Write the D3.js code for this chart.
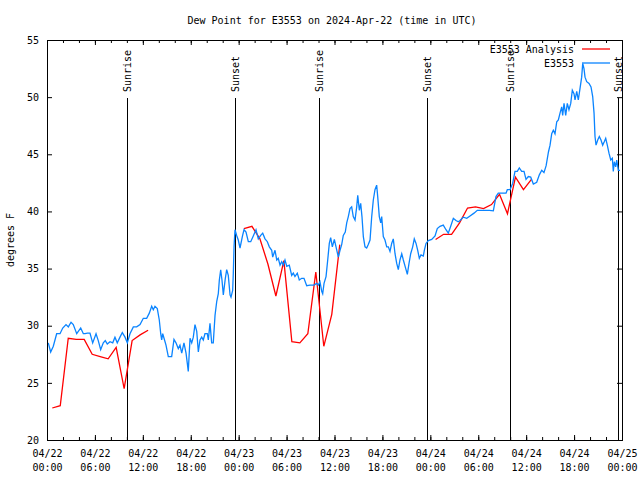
<!DOCTYPE html>
<html>
<head>
<meta charset="utf-8">
<script src="https://d3js.org/d3.v7.min.js"></script>
<style>
  body { margin: 0; background: #fff; }
  text { font-family: "DejaVu Sans Mono", monospace; font-size: 10px; fill: #000; }
</style>
</head>
<body>
<div id="chart"></div>
<script>
// hours after 2024-04-22 00:00 UTC
var redHours = [0.66, 1.66, 2.66, 3.66, 4.66, 5.66, 6.66, 7.66, 8.66, 9.66, 10.66, 11.66, 12.66,
  24.66, 25.66, 26.66, 27.66, 28.66, 29.66, 30.66, 31.66, 32.66, 33.66, 34.66, 35.66, 36.66,
  48.66, 49.66, 50.66, 51.66, 52.66, 53.66, 54.66, 55.66, 56.66, 57.66, 58.66, 59.66, 60.66];
var redDew = [22.8, 23.0, 28.9, 28.8, 28.8, 27.5, 27.3, 27.1, 28.1, 24.5, 28.7, 29.2, 29.6,
  38.5, 38.7, 37.6, 35.4, 32.6, 35.7, 28.6, 28.5, 29.3, 34.7, 28.2, 31.0, 37.1,
  37.55, 38.0, 38.0, 39.0, 40.3, 40.4, 40.25, 40.6, 41.5, 39.8, 43.0, 41.9, 42.8];

var blueHours = [0.16, 0.46, 0.79, 1.21, 1.63, 1.97, 2.38, 2.67, 3.01, 3.29, 3.72, 3.92, 4.22, 4.55, 4.76,
  5.05, 5.38, 5.72, 6.14, 6.42, 6.72, 7.05, 7.30, 7.55, 7.89, 8.23, 8.51, 8.80, 9.14, 9.43, 9.77,
  10.06, 10.39, 10.81, 11.23, 11.65, 12.06, 12.48, 12.81, 13.11, 13.31, 13.52, 13.81, 14.06, 14.24,
  14.36, 14.49, 14.78, 14.90, 15.19, 15.61, 15.90, 16.15, 16.44, 16.65, 16.87, 17.15, 17.41, 17.57,
  17.69, 17.91, 18.12, 18.32, 18.53, 18.75, 18.95, 19.16, 19.37, 19.57, 19.78, 20.07, 20.20, 20.41,
  20.62, 20.82, 21.04, 21.25, 21.45, 21.58, 21.75, 21.91, 22.08, 22.20, 22.33, 22.50, 22.70, 22.92,
  23.04, 23.25, 23.33, 23.42, 23.54, 23.75, 23.95, 24.17, 24.46, 24.67, 24.92, 25.21, 25.51, 25.83,
  26.17, 26.46, 26.76, 27.01, 27.30, 27.59, 27.84, 28.14, 28.26, 28.55, 28.77, 28.96, 29.18, 29.39,
  29.59, 29.80, 30.02, 30.34, 30.64, 30.84, 31.05, 31.34, 31.59, 31.89, 32.18, 32.52, 32.93, 33.43,
  33.77, 33.97, 34.18, 34.40, 34.52, 34.69, 34.94, 35.15, 35.35, 35.52, 35.73, 35.98, 36.19, 36.48,
  36.69, 36.90, 37.10, 37.35, 37.53, 37.73, 37.94, 38.15, 38.35, 38.57, 38.78, 38.91, 39.11, 39.28,
  39.44, 39.61, 39.82, 40.03, 40.23, 40.45, 40.66, 40.86, 41.07, 41.28, 41.41, 41.61, 41.79, 41.91,
  42.11, 42.32, 42.54, 42.74, 42.95, 43.16, 43.36, 43.58, 43.79, 43.99, 44.20, 44.42, 44.62, 44.92,
  45.12, 45.33, 45.54, 45.79, 45.99, 46.21, 46.42, 46.62, 46.83, 47.12, 47.25, 47.46, 47.75, 48.17,
  48.59, 48.87, 49.21, 49.62, 49.96, 50.25, 50.55, 50.88, 51.21, 51.50, 51.72, 52.13, 52.56, 52.97,
  53.47, 53.88, 54.43, 55.06, 55.38, 55.89, 56.22, 56.51, 56.94, 57.48, 57.64, 57.98, 58.31, 58.60,
  58.89, 59.14, 59.44, 59.73, 59.98, 60.27, 60.57, 60.90, 61.32, 61.65, 61.95, 62.23, 62.50, 62.79,
  62.99, 63.20, 63.40, 63.61, 63.83, 64.03, 64.24, 64.45, 64.57, 64.74, 64.95, 65.15, 65.36, 65.58,
  65.78, 65.99, 66.12, 66.33, 66.53, 66.74, 66.95, 67.08, 67.24, 67.37, 67.58, 67.87, 68.12, 68.33,
  68.50, 68.62, 68.75, 68.96, 69.16, 69.37, 69.58, 69.78, 69.96, 70.16, 70.37, 70.59, 70.79, 70.91,
  71.04, 71.21, 71.34, 71.54, 71.75];
var blueDew = [28.5, 27.7, 28.2, 29.3, 29.3, 29.8, 30.1, 29.9, 30.3, 30.1, 29.3, 29.5, 29.8, 29.3, 29.3,
  29.35, 29.35, 28.5, 29.3, 28.7, 27.9, 28.5, 28.7, 28.4, 28.6, 28.5, 29.0, 28.5, 29.0, 29.4, 29.0,
  28.5, 29.3, 29.9, 29.9, 30.1, 30.65, 30.65, 31.1, 31.7, 31.4, 31.7, 31.5, 30.5, 29.3,
  28.75, 29.3, 28.6, 28.3, 27.3, 27.3, 28.8, 28.5, 28.0, 28.3, 27.6, 28.5, 27.6, 26.7,
  26.0, 28.9, 28.5, 29.0, 30.1, 29.5, 27.7, 28.75, 29.0, 28.75, 29.3, 29.3, 28.75, 30.2,
  28.5, 28.5, 30.9, 32.1, 32.8, 34.0, 34.9, 34.0, 32.7, 33.4, 34.15, 34.9, 34.4, 32.7,
  32.5, 33.1, 34.6, 36.9, 38.4, 37.9, 37.5, 36.8, 37.8, 38.4, 38.2, 37.35, 37.35, 37.85,
  38.4, 37.6, 37.9, 38.1, 37.6, 37.35, 36.9, 36.6, 36.0, 36.6, 35.75, 35.9, 35.3, 35.6,
  35.3, 35.75, 35.2, 35.3, 34.4, 34.6, 34.3, 34.6, 34.0, 34.15, 34.15, 33.5, 33.55, 33.55,
  33.7, 33.55, 33.85, 33.0, 32.8, 33.7, 34.3, 35.75, 37.2, 37.7, 36.9, 37.55, 36.9, 36.0,
  36.6, 37.1, 37.9, 38.2, 39.0, 39.55, 40.25, 40.4, 39.55, 39.25, 40.4, 41.4, 40.1, 40.7,
  39.55, 37.8, 36.9, 36.8, 37.1, 37.5, 39.55, 41.0, 41.9, 42.3, 41.3, 39.55, 39.0, 39.55,
  37.8, 37.5, 36.9, 36.9, 36.5, 37.2, 37.6, 36.3, 35.45, 34.9, 35.75, 36.3, 35.75, 35.0,
  34.5, 35.45, 36.3, 36.9, 37.6, 37.2, 36.6, 35.9, 36.2, 36.1, 36.6, 37.2, 37.45, 37.55,
  37.85, 38.5, 38.7, 38.8, 38.4, 38.1, 38.7, 39.4, 39.2, 39.1, 39.2, 39.5, 39.4, 39.6,
  39.85, 40.1, 40.1, 40.1, 40.1, 40.05, 41.3, 41.6, 41.6, 41.6, 41.9, 41.9, 42.45, 43.5,
  43.5, 43.8, 43.5, 43.5, 42.8, 43.05, 43.0, 42.4, 42.55, 43.2, 43.6, 43.4, 44.0, 45.2,
  45.8, 46.8, 47.1, 46.8, 47.85, 48.0, 48.6, 49.15, 48.4, 49.45, 48.4, 49.45, 48.9, 49.45,
  50.6, 50.3, 49.75, 50.5, 49.75, 50.75, 51.75, 52.95, 52.5, 51.75, 51.35, 51.2, 50.9, 50.05,
  48.6, 46.55, 45.8, 46.25, 46.55, 46.25, 45.8, 46.1, 46.4, 45.8, 45.1, 44.5, 44.65, 43.5,
  44.35, 43.9, 44.5, 43.6, 43.6];

var sunTimes = ["2024-04-22T10:01Z", "2024-04-22T23:32Z", "2024-04-23T10:00Z",
  "2024-04-23T23:34Z", "2024-04-24T09:59Z", "2024-04-24T23:33Z"];
var sunLabels = ["Sunrise", "Sunset", "Sunrise", "Sunset", "Sunrise", "Sunset"];

var yTicks = [20, 25, 30, 35, 40, 45, 50, 55];

var svgWidth = 640;
var svgHeight = 480;
var margin = { top: 40, right: 18, bottom: 40, left: 47 };
var chartWidth = svgWidth - margin.left - margin.right;
var chartHeight = svgHeight - margin.top - margin.bottom;

var start = Date.UTC(2024, 3, 22);
function toDate(h) { return new Date(start + h * 3600000); }

var svg = d3.select("#chart").append("svg")
  .attr("width", svgWidth)
  .attr("height", svgHeight);

var chartGroup = svg.append("g")
  .attr("transform", `translate(${margin.left}, ${margin.top})`);

var xScale = d3.scaleUtc()
  .domain([new Date(start), new Date(start + 72 * 3600000)])
  .range([0, chartWidth]);

var yScale = d3.scaleLinear()
  .domain([20, 55])
  .range([chartHeight, 0]);

// minor ticks every 2 hours, bottom and top
chartGroup.append("g")
  .attr("transform", `translate(0, ${chartHeight})`)
  .call(d3.axisBottom(xScale).ticks(d3.utcHour.every(2)).tickSize(-3).tickFormat(""));
chartGroup.append("g")
  .call(d3.axisTop(xScale).ticks(d3.utcHour.every(2)).tickSize(-3).tickFormat(""));

// major ticks every 6 hours with two-line labels
var bottomAxis = chartGroup.append("g")
  .attr("transform", `translate(0, ${chartHeight})`)
  .call(d3.axisBottom(xScale).ticks(d3.utcHour.every(6)).tickSize(-5).tickPadding(9.5).tickFormat(""));
bottomAxis.selectAll(".tick text").each(function(d) {
  var t = d3.select(this);
  t.append("tspan").attr("x", 0).text(d3.utcFormat("%m/%d")(d));
  t.append("tspan").attr("x", 0).attr("dy", "1.45em").text(d3.utcFormat("%H:%M")(d));
});
chartGroup.append("g")
  .call(d3.axisTop(xScale).ticks(d3.utcHour.every(6)).tickSize(-5).tickFormat(""));

// y axis left with labels, right mirrored
chartGroup.append("g")
  .call(d3.axisLeft(yScale).tickValues(yTicks).tickSize(-5).tickPadding(8));
chartGroup.append("g")
  .attr("transform", `translate(${chartWidth}, 0)`)
  .call(d3.axisRight(yScale).tickValues(yTicks).tickSize(-5).tickFormat(""));

chartGroup.selectAll(".domain").remove();
chartGroup.selectAll(".tick line").attr("stroke", "#000");
chartGroup.selectAll(".tick text")
  .style("font-family", "DejaVu Sans Mono, monospace")
  .style("font-size", "10px")
  .attr("fill", "#000");

// sunrise / sunset markers
var sunGroup = chartGroup.selectAll(".sun")
  .data(sunTimes)
  .enter()
  .append("g")
  .attr("class", "sun");
sunGroup.append("line")
  .attr("x1", d => Math.round(xScale(new Date(d))) + 0.5)
  .attr("x2", d => Math.round(xScale(new Date(d))) + 0.5)
  .attr("y1", 58)
  .attr("y2", chartHeight)
  .attr("stroke", "#000")
  .attr("stroke-width", 1);
sunGroup.append("text")
  .attr("transform", d => `translate(${xScale(new Date(d)) + 0.5}, 52) rotate(-90)`)
  .attr("text-anchor", "start")
  .attr("dy", "0.35em")
  .text((d, i) => sunLabels[i]);

// analysis line, split where hours are missing
var redPoints = redHours.map((h, i) => ({ t: toDate(h), v: redDew[i], h: h }));
var redSegments = [];
redPoints.forEach(function(p, i) {
  if (i === 0 || p.h - redPoints[i - 1].h > 1.5) redSegments.push([]);
  redSegments[redSegments.length - 1].push(p);
});
var bluePoints = blueHours.map((h, i) => ({ t: toDate(h), v: blueDew[i] }));

var line = d3.line()
  .x(d => xScale(d.t))
  .y(d => yScale(d.v));

chartGroup.selectAll(".red")
  .data(redSegments)
  .enter()
  .append("path")
  .attr("d", line)
  .attr("fill", "none")
  .attr("stroke", "#ff0000")
  .attr("stroke-width", 1.3);

chartGroup.append("path")
  .attr("d", line(bluePoints))
  .attr("fill", "none")
  .attr("stroke", "#0a84ff")
  .attr("stroke-width", 1.3);

// frame
chartGroup.append("rect")
  .attr("x", 0.5)
  .attr("y", 0.5)
  .attr("width", chartWidth)
  .attr("height", chartHeight)
  .attr("fill", "none")
  .attr("stroke", "#000");

// legend
var legend = [{ name: "E3553 Analysis", color: "#ff0000" }, { name: "E3553", color: "#0a84ff" }];
legend.forEach(function(d, i) {
  var y = 9 + i * 14;
  chartGroup.append("text")
    .attr("x", 527)
    .attr("y", y)
    .attr("dy", "0.35em")
    .attr("text-anchor", "end")
    .text(d.name);
  chartGroup.append("line")
    .attr("x1", 535).attr("x2", 563)
    .attr("y1", y).attr("y2", y)
    .attr("stroke", d.color)
    .attr("stroke-width", 1.3);
});

// title and y axis title
svg.append("text")
  .attr("x", 332)
  .attr("y", 24)
  .attr("text-anchor", "middle")
  .text("Dew Point for E3553 on 2024-Apr-22 (time in UTC)");

svg.append("text")
  .attr("transform", "translate(14, 240) rotate(-90)")
  .attr("text-anchor", "middle")
  .text("degrees F");
</script>
</body>
</html>
